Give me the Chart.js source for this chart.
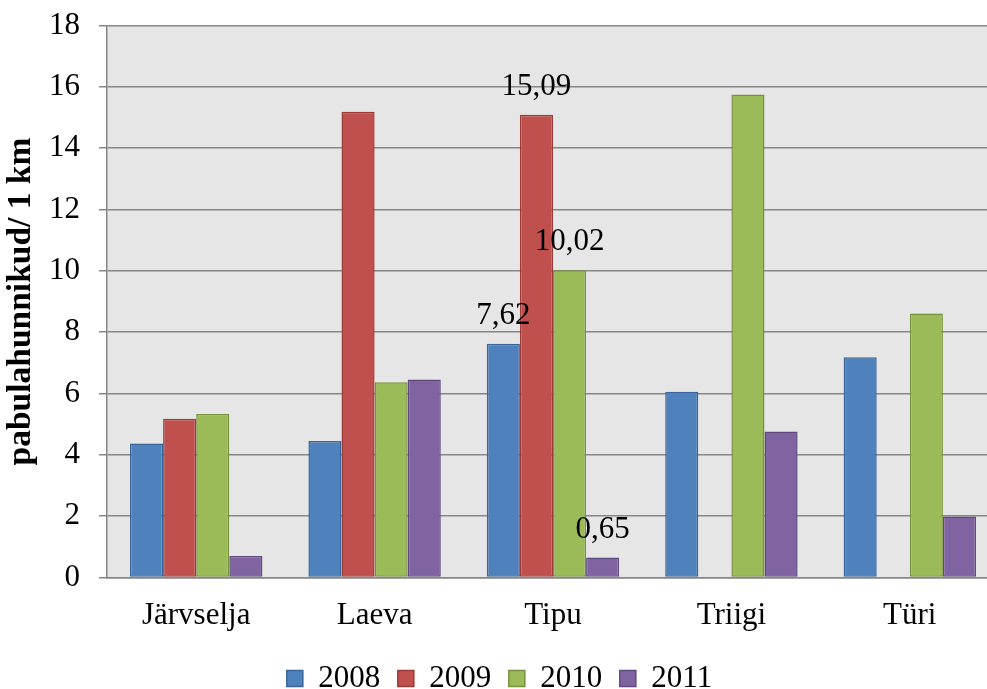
<!DOCTYPE html>
<html>
<head>
<meta charset="utf-8">
<script src="https://cdn.jsdelivr.net/npm/chart.js@4.4.1/dist/chart.umd.min.js"></script>
<style>
  html, body { margin: 0; padding: 0; background: #ffffff; overflow: hidden; }
  #wrap { width: 1002px; height: 704px; }
</style>
</head>
<body>
<div id="wrap"><canvas id="c" width="1002" height="704"></canvas></div>
<script>
// Pabulahunnikute tihedus seirealadel (hunnikut 1 km kohta)
const categories = ['Järvselja', 'Laeva', 'Tipu', 'Triigi', 'Türi'];
const years = ['2008', '2009', '2010', '2011'];
const values2008 = [4.37, 4.45, 7.62, 6.06, 7.18];
const values2009 = [5.18, 15.19, 15.09, null, null];
const values2010 = [5.33, 6.37, 10.02, 15.75, 8.61];
const values2011 = [0.70, 6.46, 0.65, 4.76, 1.99];
const yTicks = [0, 2, 4, 6, 8, 10, 12, 14, 16, 18];
const labelledCategory = 'Tipu';

const fills = ['#4F81BD', '#C0504D', '#9BBB59', '#8064A2'];
const borders = ['#3A659A', '#9A3B38', '#76913F', '#5F4A7E'];
const series = [values2008, values2009, values2010, values2011];

const FONT = "'Liberation Serif', 'Times New Roman', serif";

// grey plotting area behind grid and bars
const plotBackground = {
  id: 'plotBackground',
  beforeDraw(chart) {
    const a = chart.chartArea, ctx = chart.ctx;
    ctx.save();
    ctx.fillStyle = '#E6E6E6';
    ctx.fillRect(a.left, a.top, a.right - a.left, a.bottom - a.top);
    ctx.restore();
  }
};

// value labels above the bars of one category
const valueLabels = {
  id: 'valueLabels',
  afterDatasetsDraw(chart) {
    const ctx = chart.ctx;
    const idx = categories.indexOf(labelledCategory);
    ctx.save();
    ctx.font = '31px ' + FONT;
    ctx.fillStyle = '#000000';
    ctx.textAlign = 'center';
    ctx.textBaseline = 'middle';
    chart.data.datasets.forEach((ds, i) => {
      const v = ds.data[idx];
      if (v == null) return;
      const bar = chart.getDatasetMeta(i).data[idx];
      const text = v.toFixed(2).replace('.', ',');
      ctx.fillText(text, bar.x, bar.y - 28);
    });
    ctx.restore();
  }
};

new Chart(document.getElementById('c'), {
  type: 'bar',
  data: {
    labels: categories,
    datasets: years.map((y, i) => ({
      label: y,
      data: series[i],
      backgroundColor: fills[i],
      borderColor: borders[i],
      borderWidth: 1.5,
      borderSkipped: false
    }))
  },
  options: {
    responsive: false,
    animation: false,
    devicePixelRatio: 1,
    layout: { padding: { top: 0, right: 3, bottom: 0, left: 0 } },
    datasets: { bar: { categoryPercentage: 0.742, barPercentage: 1.0 } },
    scales: {
      x: {
        grid: { display: false, drawTicks: false },
        border: { display: true, color: '#868686', width: 1.5 },
        ticks: { color: '#000000', font: { family: FONT, size: 31 }, padding: 20 },
        afterFit(s) { s.height = 68; }
      },
      y: {
        min: 0,
        max: 18,
        afterBuildTicks(s) { s.ticks = yTicks.map(v => ({ value: v })); },
        grid: { color: '#868686', lineWidth: 1.5, tickLength: 8, drawTicks: true },
        border: { display: true, color: '#868686', width: 1.5 },
        ticks: { color: '#000000', font: { family: FONT, size: 31, lineHeight: 0.42 }, padding: 19 },
        title: {
          display: true,
          text: 'pabulahunnikud/ 1 km',
          color: '#000000',
          font: { family: FONT, size: 33.5, weight: 'bold' },
          padding: { top: 1, bottom: 2 }
        },
        afterFit(s) { s.width = 107; }
      }
    },
    plugins: {
      legend: {
        position: 'bottom',
        labels: {
          color: '#000000',
          font: { family: FONT, size: 31 },
          boxWidth: 16,
          boxHeight: 16,
          padding: 17.5
        }
      },
      tooltip: { enabled: false }
    }
  },
  plugins: [plotBackground, valueLabels]
});
</script>
</body>
</html>
